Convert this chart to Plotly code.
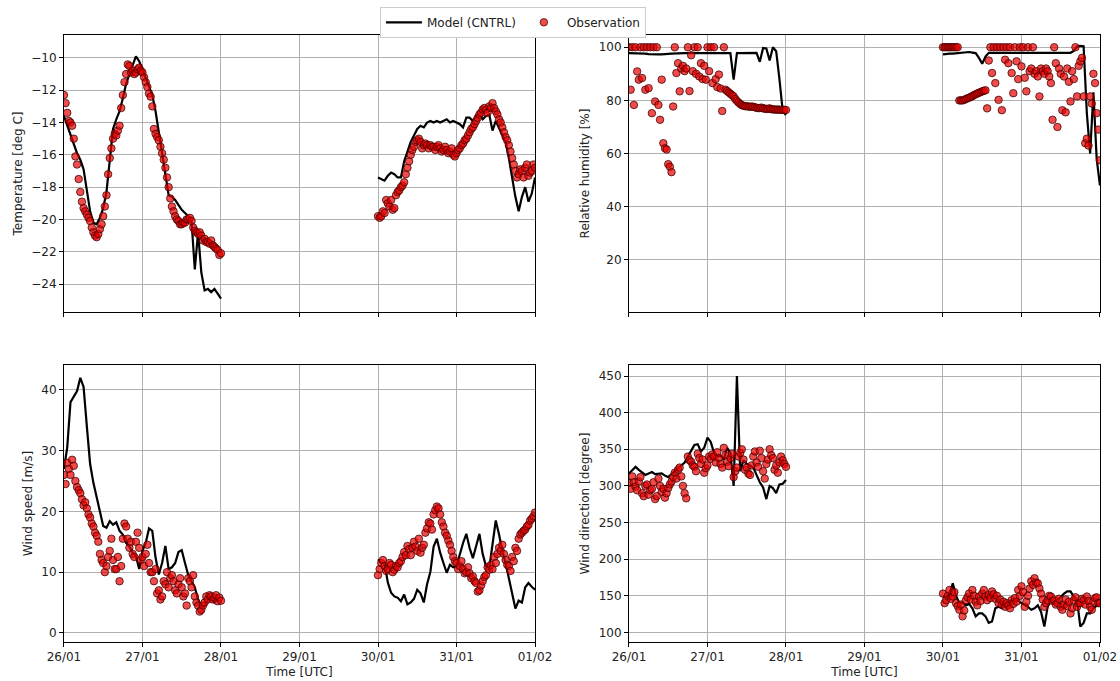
import pandas as pd
import plotly.graph_objects as go

# ---------------- data ----------------
seg1_start = "2020-01-26 00:00"
seg2_start = "2020-01-30 00:00"

# model: hourly
temp_model_1 = [-13.6, -14.2, -14.8, -15.4, -15.9, -16.3, -16.9, -18.2, -19.5, -20.2,
                -20.3, -19.9, -19.3, -18.3, -16.3, -14.4, -13.8, -13.3, -12.5, -11.6,
                -11.0, -10.5, -9.9, -10.2, -10.7, -11.2, -11.7, -12.3, -13.3, -14.6,
                -15.9, -17.2, -18.5, -18.6, -18.8, -19.1, -19.4, -19.6, -19.8, -20.1,
                -23.1, -20.8, -23.3, -24.4, -24.3, -24.5, -24.3, -24.6, -24.9]
temp_model_2 = [-17.4, -17.5, -17.6, -17.3, -17.1, -17.2, -17.4, -17.4, -16.4, -15.8,
                -15.2, -14.8, -14.4, -14.2, -14.3, -14.0, -13.9, -14.0, -13.9, -14.0,
                -13.9, -13.8, -14.0, -13.9, -14.0, -14.1, -14.3, -13.7, -13.7, -13.9,
                -13.6, -13.5, -13.8, -13.6, -13.5, -14.5, -13.9, -14.3, -14.7, -15.2,
                -16.2, -17.4, -18.6, -19.5, -18.6, -18.0, -18.9, -18.4, -17.4]
# observations: half-hourly
temp_obs_1 = [-12.3, -12.8, -13.4, -13.9, -14.0, -14.2, -15.0, -16.1, -16.6, -17.5,
              -18.3, -18.9, -19.3, -19.5, -19.7, -19.9, -20.1, -20.5, -20.8, -21.0,
              -21.1, -20.9, -20.6, -20.3, -19.8, -19.2, -18.5, -17.2, -16.2, -15.6,
              -15.0, -14.7, -14.8, -14.5, -14.2, -13.1, -12.3, -11.5, -11.0, -10.4,
              -10.5, -10.9, -10.8, -11.0, -10.9, -10.7, -10.6, -10.8, -10.9, -11.2,
              -11.5, -11.8, -12.2, -12.4, -13.0, -14.4, -14.7, -14.9, -15.1, -15.5,
              -15.9, -16.3, -16.8, -17.4, -18.0, -18.7, -19.2, -19.5, -19.8, -20.0,
              -20.1, -20.3, -20.3, -20.2, -20.2, -20.0, -20.0, -19.9, -20.1, -20.5,
              -20.7, -20.8, -20.9, -20.8, -21.0, -21.3, -21.2, -21.4, -21.4, -21.5,
              -21.3, -21.6, -21.7, -21.8, -21.9, -22.2, -22.1]
temp_obs_2 = [-19.8, -19.9, -19.8, -19.5, -19.6, -18.8, -19.0, -19.2, -18.8, -19.4,
              -19.3, -18.5, -18.3, -18.2, -18.0, -17.9, -17.7, -17.2, -16.8, -16.4,
              -16.0, -15.7, -15.5, -15.2, -15.1, -15.0, -15.2, -15.6, -15.4, -15.3,
              -15.4, -15.6, -15.4, -15.5, -15.5, -15.7, -15.5, -15.4, -15.6, -15.8,
              -15.7, -15.5, -15.7, -15.9, -15.8, -15.6, -16.0, -16.1, -15.9, -15.7,
              -15.6, -15.4, -15.3, -15.1, -15.0, -14.8, -14.6, -14.4, -14.3, -14.1,
              -13.9, -13.7, -13.5, -13.4, -13.2, -13.1, -13.2, -13.4, -13.0, -13.1,
              -12.8, -13.1, -13.3, -13.5, -13.8, -14.0, -14.3, -14.6, -14.9, -15.1,
              -15.4, -15.8, -16.2, -16.6, -17.0, -17.4, -17.2, -16.9, -17.0, -17.4,
              -16.8, -16.6, -17.3, -17.1, -17.0, -16.6, -16.8]

rh_model_1 = [97.8, 97.8, 97.8, 97.8, 97.8, 97.6, 97.4, 97.3, 97.3, 97.3,
              97.3, 97.3, 97.5, 97.6, 97.7, 97.8, 97.8, 97.8, 97.8, 97.8,
              97.8, 97.8, 97.8, 97.8, 97.8, 97.8, 97.8, 97.8, 97.8, 97.8,
              97.8, 97.8, 87.8, 97.8, 97.8, 97.8, 97.8, 97.8, 97.9, 97.9,
              94.5, 99.7, 99.5, 95.0, 100.0, 98.5, 88.0, 76.0, 74.5]
rh_model_2 = [97.3, 97.5, 97.6, 97.6, 97.7, 97.8, 97.8, 98.0, 98.2, 98.0,
              97.8, 96.0, 93.8, 96.5, 97.9, 97.9, 97.9, 97.9, 97.9, 97.9,
              97.9, 97.9, 97.9, 97.9, 97.9, 97.9, 97.9, 97.9, 97.9, 97.9,
              97.9, 97.9, 97.9, 97.9, 97.9, 97.9, 97.9, 97.9, 97.9, 97.9,
              98.6, 100.3, 100.5, 100.4, 75.0, 60.0, 83.0, 58.0, 48.0]
rh_obs_1 = [100, 84, 100, 78.3, 100, 90.9, 87.8, 100, 88.4, 100,
            84, 100, 84.6, 100, 75.2, 100, 79.6, 100, 78.3, 72.7,
            87.8, 63.9, 62, 61.5, 56, 55, 53, 77.7, 100, 90.3,
            94, 83.4, 92, 93, 91, 92, 100, 83.5, 97, 91,
            100, 90, 100, 89, 94, 88, 93, 87.8, 100, 91,
            100, 86.5, 100, 88, 85, 89.7, 84.5, 76, 100, 84,
            83.5, 83, 82.5, 82, 81.5, 80.5, 79.8, 79.2, 78.6, 78.2,
            78.0, 77.8, 77.8, 77.7, 77.6, 77.7, 77.6, 77.4, 77.2, 77.1,
            77.1, 77.3, 77.0, 76.9, 76.8, 76.8, 77.0, 76.7, 76.6, 76.6,
            76.5, 76.6, 76.5, 76.4, 76.5, 76.4, 76.4]
rh_obs_2 = [100, 100, 100, 100, 100, 100, 100, 100, 100, 100,
            80, 80, 80, 80.2, 80.5, 80.8, 81, 81.3, 81.6, 82,
            82.3, 82.6, 82.9, 83.1, 83.4, 83.6, 83.8, 77, 95, 100,
            90.3, 100, 86.5, 100, 80.2, 100, 76.3, 100, 95.3, 100,
            94, 100, 90.3, 82.7, 100, 94.7, 88, 100, 92.8, 100,
            88.5, 83.4, 100, 91, 92, 100, 90, 91, 89, 81.5,
            92, 91, 90, 92, 91, 89, 86.5, 72.7, 100, 94,
            70, 92, 90, 76.3, 89, 75.5, 92, 87, 79.6, 91,
            88, 100, 81.5, 93, 94.7, 96, 81.5, 63.9, 65.6, 63,
            81.5, 78.8, 90, 86.5, 75.2, 69, 57.5]

ws_model_1 = [27.0, 30.5, 38.0, 38.8, 39.8, 42.0, 40.5, 34.0, 27.8, 24.7,
              22.5, 19.8, 17.6, 17.3, 18.4, 17.8, 18.2, 16.8, 16.2, 14.8,
              14.2, 13.2, 12.6, 10.5, 13.5, 14.8, 17.2, 16.8, 12.4, 9.6,
              11.5, 14.3, 10.5, 10.8, 11.5, 13.3, 13.6, 11.5, 9.5, 8.5,
              7.5, 5.5, 4.2, 4.5, 5.5, 5.6, 5.0, 5.5, 5.5]
ws_model_2 = [12.1, 11.5, 11.5, 8.3, 6.6, 6.0, 5.8, 5.2, 6.3, 4.7,
              5.0, 5.6, 7.1, 6.5, 5.0, 8.0, 10.0, 14.2, 15.5, 13.2,
              11.5, 9.9, 11.2, 10.8, 11.0, 13.0, 14.8, 16.3, 14.0, 12.3,
              14.5, 16.3, 13.0, 11.0, 10.6, 15.0, 18.5, 16.2, 13.5, 11.5,
              9.0, 6.0, 4.0, 5.3, 5.0, 7.5, 8.2, 7.6, 7.1]
ws_obs_1 = [26, 24.5, 28, 27, 26, 28.5, 27.5, 25, 24, 23.5,
            23, 22, 21, 21.5, 20.5, 19.5, 19, 18, 17.5, 16.5,
            16, 15, 13, 12, 11.5, 10, 11, 12.5, 13.5, 15.5,
            12, 10.5, 10.5, 12.5, 8.5, 11, 15.5, 18, 17.5, 15.5,
            14, 15, 13, 12.5, 15, 16.5, 14, 12, 12.5, 11,
            13, 14.5, 11.5, 10, 10, 8.5, 10.5, 6.5, 7.0, 5.5,
            6.0, 8.5, 8.0, 10, 7.5, 9, 9.5, 8.5, 7.0, 6.5,
            8.0, 9, 7.5, 6, 6.5, 4.5, 9.0, 8.5, 7.5, 9.5,
            6.0, 5, 4.5, 3.5, 3.8, 4.5, 5.0, 6, 5.5, 6.2,
            6.0, 5.5, 5.8, 6.2, 5.2, 5.8, 5.3]
ws_obs_2 = [9.5, 10.5, 11.5, 12, 11.0, 10.2, 10.5, 11.5, 11.2, 10,
            10.4, 11, 10.8, 11.5, 11.8, 12.5, 13.3, 12.8, 14.3, 13.8,
            12.8, 14, 15.0, 14.2, 13.5, 15.5, 13.2, 14, 14.5, 16.5,
            17.2, 18.2, 18.0, 17, 19.5, 20.2, 20.8, 20.5, 19.5, 18.2,
            17.5, 16.5, 16.0, 15.2, 14.5, 13.5, 12.5, 11.8, 11.5, 10.5,
            11.0, 11.8, 10.5, 9.8, 10.0, 10.8, 9.8, 9.0, 9.3, 8.5,
            8.2, 6.8, 7.0, 7.8, 8.5, 9.2, 9.5, 10.8, 10.4, 11.2,
            10.5, 12.5, 11.5, 13, 14.0, 13.5, 14.5, 13, 12.0, 11.2,
            11.0, 10.2, 12.5, 11.8, 14.0, 13.5, 15.5, 16.2, 16.5, 16.8,
            17.0, 17.5, 17.8, 18.5, 18.8, 19.2, 19.8]

wd_model_1 = [317, 322, 326, 322, 318, 315, 317, 319, 316, 317,
              317, 314, 312, 316, 320, 323, 328, 332, 340, 348,
              356, 357, 347, 352, 366, 360, 345, 340, 341, 336,
              352, 345, 300, 450, 320, 335, 330, 328, 325, 315,
              305, 298, 282, 300, 297, 290, 302, 303, 308]
wd_model_2 = [149, 148, 153, 167, 150, 140, 141, 137, 139, 133,
              122, 126, 126, 122, 113, 115, 133, 135, 133, 138,
              142, 144, 144, 143, 140, 138, 135, 131, 133, 137,
              128, 108, 135, 144, 140, 144, 149, 153, 156, 156,
              149, 144, 108, 113, 126, 126, 133, 137, 140]
wd_obs_1 = [304, 296, 313, 305, 299, 294, 306, 312, 290, 286,
            300, 302, 288, 294, 296, 305, 282, 286, 310, 300,
            292, 296, 284, 290, 297, 302, 306, 312, 318, 310,
            322, 325, 313, 300, 290, 283, 340, 335, 333, 328,
            326, 320, 344, 338, 330, 336, 318, 324, 328, 340,
            337, 343, 340, 332, 346, 338, 330, 325, 352, 342,
            333, 327, 338, 344, 312, 320, 325, 340, 345, 350,
            336, 322, 325, 317, 315, 328, 340, 347, 332, 326,
            348, 338, 320, 310, 330, 336, 350, 342, 338, 322,
            328, 318, 332, 340, 335, 330, 326]
wd_obs_2 = [153, 140, 144, 150, 158, 146, 149, 155, 140, 136,
            131, 138, 122, 130, 144, 148, 153, 145, 158, 150,
            142, 137, 149, 143, 153, 158, 149, 144, 151, 147,
            156, 152, 146, 150, 140, 145, 138, 142, 135, 140,
            137, 133, 144, 139, 147, 142, 158, 150, 163, 155,
            135, 142, 150, 160, 170, 165, 174, 168, 167, 160,
            153, 145, 135, 140, 144, 150, 149, 143, 144, 138,
            140, 146, 135, 131, 138, 145, 136, 142, 126, 133,
            144, 148, 135, 140, 140, 146, 144, 138, 149, 143,
            135, 131, 142, 147, 148, 140, 140]

y_titles = ["Temperature [deg C]", "Relative humidity [%]", "Wind speed [m/s]", "Wind direction [degree]"]
x_tick_labels = ["26/01", "27/01", "28/01", "29/01", "30/01", "31/01", "01/02"]

# ---------------- helpers ----------------
def times(start, n, freq):
    return list(pd.date_range(start, periods=n, freq=freq))

def joined(a, b):
    return list(a) + [None] + list(b)

t_h = joined(times(seg1_start, 49, "h"), times(seg2_start, 49, "h"))
t_30 = joined(times(seg1_start, 97, "30min"), times(seg2_start, 97, "30min"))

panels = [
    (joined(temp_model_1, temp_model_2), joined(temp_obs_1, temp_obs_2)),
    (joined(rh_model_1, rh_model_2), joined(rh_obs_1, rh_obs_2)),
    (joined(ws_model_1, ws_model_2), joined(ws_obs_1, ws_obs_2)),
    (joined(wd_model_1, wd_model_2), joined(wd_obs_1, wd_obs_2)),
]

fig = go.Figure()
for i, (model, obs) in enumerate(panels):
    sfx = "" if i == 0 else str(i + 1)
    fig.add_trace(go.Scatter(
        x=t_h, y=model, mode="lines", name="Model (CNTRL)",
        line=dict(color="black", width=2.2), showlegend=(i == 0),
        xaxis="x" + sfx, yaxis="y" + sfx, connectgaps=False))
    fig.add_trace(go.Scatter(
        x=t_30, y=obs, mode="markers", name="Observation",
        marker=dict(size=7.5, color="rgba(235,0,0,0.7)",
                    line=dict(color="rgba(60,0,0,0.75)", width=1)),
        showlegend=(i == 0), xaxis="x" + sfx, yaxis="y" + sfx))

xL, xR = [0.0571, 0.4777], [0.5616, 0.9821]
yT, yB = [0.5419, 0.9486], [0.0573, 0.4640]
yranges = [[-25.73, -8.58], [0.4, 104.6], [-1.5, 44.1], [87, 465]]
ydticks = [2, 20, 10, 50]

font = dict(family="DejaVu Sans", size=12, color="#222")
tickvals = list(pd.date_range("2020-01-26", periods=7, freq="D"))

layout = dict(
    width=1120, height=681,
    margin=dict(l=0, r=0, t=0, b=0),
    paper_bgcolor="white", plot_bgcolor="white",
    font=font,
    legend=dict(orientation="h", x=0.458, y=0.99, xanchor="center", yanchor="top",
                bordercolor="#cccccc", borderwidth=1,
                font=dict(size=12, family="DejaVu Sans", color="#222"),
                itemwidth=36, tracegroupgap=0),
    showlegend=True,
)
domains = [(xL, yT), (xR, yT), (xL, yB), (xR, yB)]
for i, (dx, dy) in enumerate(domains):
    sfx = "" if i == 0 else str(i + 1)
    bottom = i >= 2
    layout["xaxis" + sfx] = dict(
        domain=dx, anchor="y" + sfx, range=["2020-01-26", "2020-02-01"],
        tickvals=tickvals, ticktext=x_tick_labels, showticklabels=bottom,
        ticks="outside", ticklen=4, tickcolor="black", automargin=False,
        showgrid=True, gridcolor="#b0b0b0", gridwidth=0.8,
        showline=True, linecolor="black", linewidth=1, mirror=True,
        zeroline=False,
        title=dict(text="Time [UTC]" if bottom else "", font=font, standoff=4),
    )
    layout["yaxis" + sfx] = dict(
        domain=dy, anchor="x" + sfx, range=yranges[i], dtick=ydticks[i],
        ticks="outside", ticklen=4, tickcolor="black", automargin=False,
        showgrid=True, gridcolor="#b0b0b0", gridwidth=0.8,
        showline=True, linecolor="black", linewidth=1, mirror=True,
        zeroline=False,
        title=dict(text=y_titles[i], font=font, standoff=6),
    )
fig.update_layout(**layout)
fig.write_html("out.html")
